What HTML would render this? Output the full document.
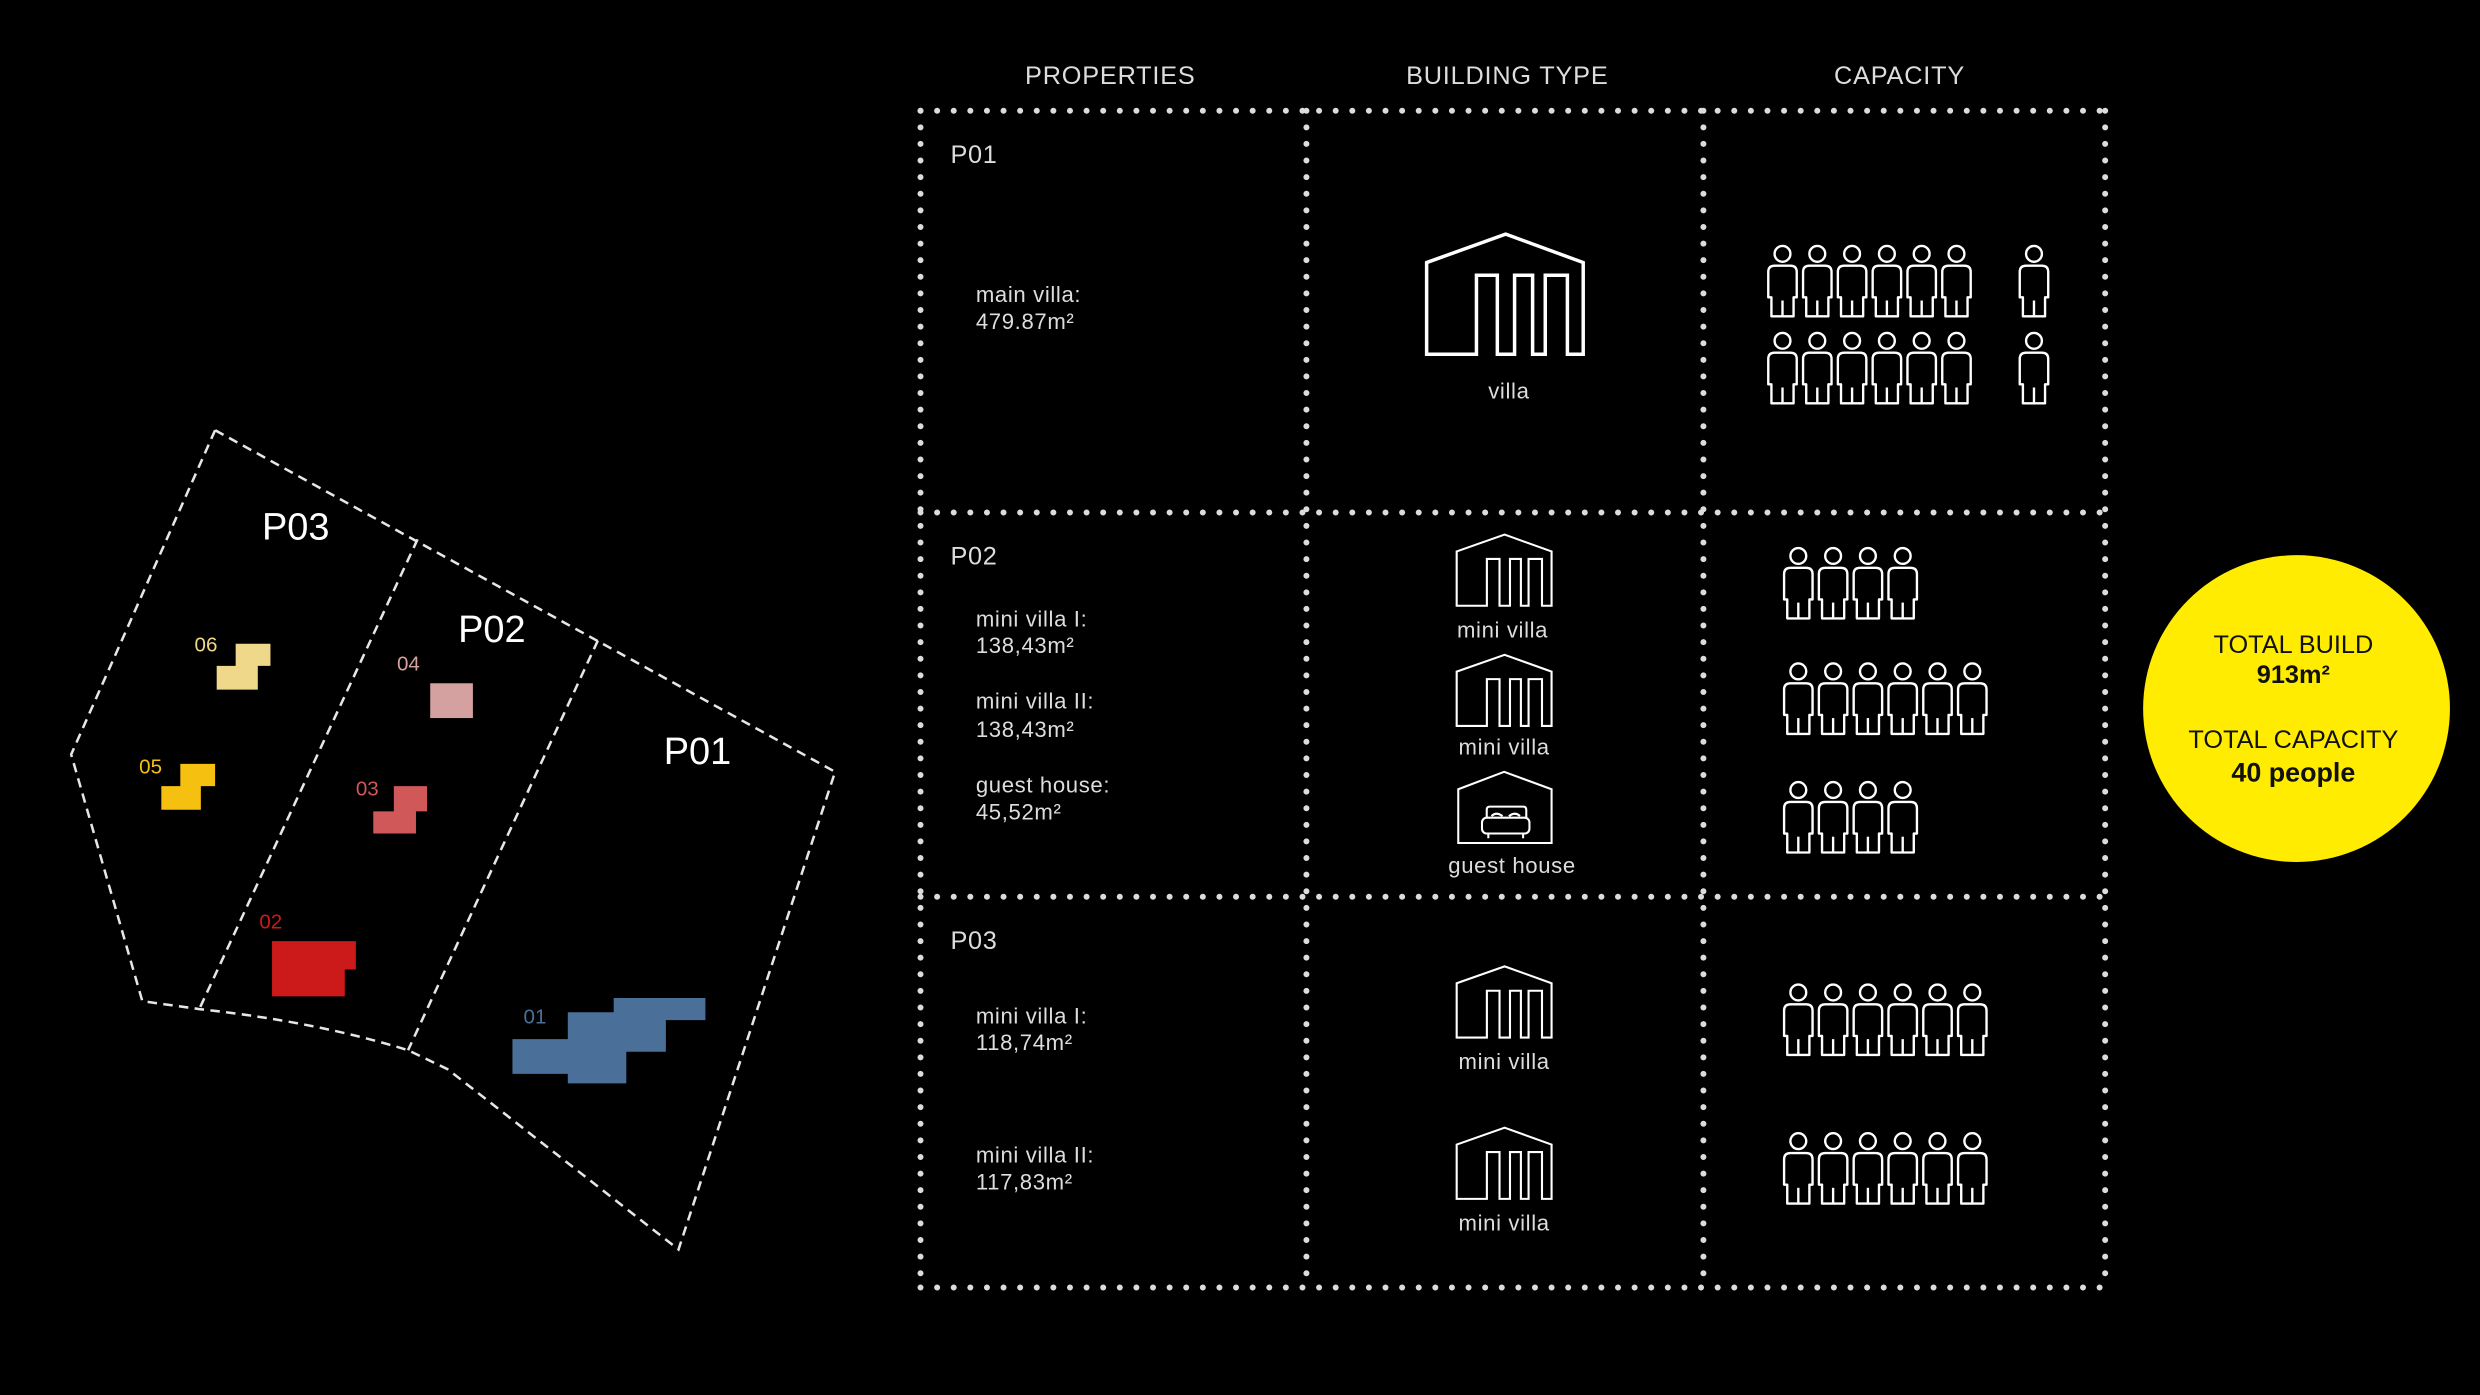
<!DOCTYPE html>
<html><head><meta charset="utf-8"><style>
html,body{margin:0;padding:0;background:#000;}
svg{display:block}
text{font-family:"Liberation Sans",sans-serif;}
</style></head><body>
<svg width="2480" height="1395" viewBox="0 0 1568 882" xmlns="http://www.w3.org/2000/svg">
<defs>
<g id="p" fill="none" stroke="#fff" stroke-width="1.5" stroke-linejoin="round">
<circle cx="10" cy="5.5" r="5"/>
<path d="M1,33 V17 Q1,13 5,13 H15 Q19,13 19,17 V33 H17 V45 H3 V33 Z"/>
<path d="M10,35 V45"/>
</g>
<g id="v" fill="none" stroke="#fff" stroke-width="2.2" stroke-linejoin="miter">
<path d="M0,18 L50,0 L99,18 V76 H89 V26 H75 V76 H67 V26 H55.6 V76 H44.7 V26 H31.5 V76 H0 Z"/>
</g>
</defs>
<rect width="1568" height="882" fill="#000"/>

<!-- map -->
<g fill="none" stroke="#e6e6e6" stroke-width="1.6" stroke-dasharray="6 4">
<path d="M136,272 L45,477 L90,633 L126,638 Q200,646 258,664 L283,676 L429,790 L528,488 Z"/>
<path d="M264,341 L126,638"/>
<path d="M378,405 L258,664"/>
</g>
<g font-size="24" fill="#fff" text-anchor="middle">
<text x="187" y="341">P03</text>
<text x="311" y="406">P02</text>
<text x="441" y="483">P01</text>
</g>
<path d="M149,407H171V421H163V436H137V421H149Z" fill="#f0d88a"/>
<path d="M114,483H136V497H127V512H102V497H114Z" fill="#f5c010"/>
<rect x="272" y="432" width="27" height="22" fill="#d4a0a0"/>
<path d="M249,497H270V513H263V527H236V513H249Z" fill="#d05858"/>
<path d="M172,595H225V613H218V630H172Z" fill="#cc1a1a"/>
<path d="M388,631H446V645H421V665H396V685H359V679H324V657H359V640H388Z" fill="#4a7099"/>
<g font-size="13">
<text x="123" y="412" fill="#f0d88a">06</text>
<text x="88" y="489" fill="#f5c010">05</text>
<text x="251" y="424" fill="#d4a0a0">04</text>
<text x="225" y="503" fill="#d05858">03</text>
<text x="164" y="587" fill="#cc1a1a">02</text>
<text x="331" y="647" fill="#4a7099">01</text>
</g>

<!-- headers -->
<g font-size="16" fill="#ddd" text-anchor="middle" letter-spacing="0.5">
<text x="702" y="53">PROPERTIES</text>
<text x="953" y="53">BUILDING TYPE</text>
<text x="1201" y="53">CAPACITY</text>
</g>

<!-- table dots -->
<g fill="none" stroke="#dcdcdc" stroke-width="3.8" stroke-linecap="round" stroke-dasharray="0 10.5">
<path d="M582,70H1331"/><path d="M582,324H1331"/><path d="M582,567H1331"/><path d="M582,814H1331"/>
<path d="M582,70V814"/><path d="M826,70V814"/><path d="M1077,70V814"/><path d="M1331,70V814"/>
</g>

<!-- properties text -->
<g fill="#ddd" font-size="14" letter-spacing="0.4">
<text x="601" y="103" font-size="16">P01</text>
<text x="617" y="191">main villa:</text><text x="617" y="208">479.87m²</text>
<text x="601" y="357" font-size="16">P02</text>
<text x="617" y="396">mini villa I:</text><text x="617" y="413">138,43m²</text>
<text x="617" y="448">mini villa II:</text><text x="617" y="466">138,43m²</text>
<text x="617" y="501">guest house:</text><text x="617" y="518">45,52m²</text>
<text x="601" y="600" font-size="16">P03</text>
<text x="617" y="647">mini villa I:</text><text x="617" y="664">118,74m²</text>
<text x="617" y="735">mini villa II:</text><text x="617" y="752">117,83m²</text>
</g>

<!-- building icons -->
<use href="#v" transform="translate(902,148)"/>
<use href="#v" transform="translate(921,338) scale(0.606,0.592)"/>
<use href="#v" transform="translate(921,414) scale(0.606,0.592)"/>
<use href="#v" transform="translate(921,611) scale(0.606,0.592)"/>
<use href="#v" transform="translate(921,713) scale(0.606,0.592)"/>
<g fill="none" stroke="#fff" stroke-width="1.3">
<path d="M922,499 L951,488 L981,499 V533 H922 Z"/>
<path d="M940,517 V512 Q940,510 942,510 H963 Q965,510 965,512 V517"/>
<rect x="937" y="517" width="30" height="10" rx="3"/>
<path d="M941,527V530M963,527V530"/>
<path d="M943,516Q946,513 950,516M954,516Q958,513 961,516"/>
</g>
<g fill="#ddd" font-size="14" text-anchor="middle" letter-spacing="0.4">
<text x="954" y="252">villa</text>
<text x="950" y="403">mini villa</text>
<text x="951" y="477">mini villa</text>
<text x="956" y="552">guest house</text>
<text x="951" y="676">mini villa</text>
<text x="951" y="778">mini villa</text>
</g>

<!-- people -->
<g>
<use href="#p" x="1117" y="155"/><use href="#p" x="1139" y="155"/><use href="#p" x="1161" y="155"/><use href="#p" x="1183" y="155"/><use href="#p" x="1205" y="155"/><use href="#p" x="1227" y="155"/><use href="#p" x="1276" y="155"/>
<use href="#p" x="1117" y="210"/><use href="#p" x="1139" y="210"/><use href="#p" x="1161" y="210"/><use href="#p" x="1183" y="210"/><use href="#p" x="1205" y="210"/><use href="#p" x="1227" y="210"/><use href="#p" x="1276" y="210"/>

<use href="#p" x="1127" y="346"/><use href="#p" x="1149" y="346"/><use href="#p" x="1171" y="346"/><use href="#p" x="1193" y="346"/>
<use href="#p" x="1127" y="419"/><use href="#p" x="1149" y="419"/><use href="#p" x="1171" y="419"/><use href="#p" x="1193" y="419"/><use href="#p" x="1215" y="419"/><use href="#p" x="1237" y="419"/>
<use href="#p" x="1127" y="494"/><use href="#p" x="1149" y="494"/><use href="#p" x="1171" y="494"/><use href="#p" x="1193" y="494"/>

<use href="#p" x="1127" y="622"/><use href="#p" x="1149" y="622"/><use href="#p" x="1171" y="622"/><use href="#p" x="1193" y="622"/><use href="#p" x="1215" y="622"/><use href="#p" x="1237" y="622"/>
<use href="#p" x="1127" y="716"/><use href="#p" x="1149" y="716"/><use href="#p" x="1171" y="716"/><use href="#p" x="1193" y="716"/><use href="#p" x="1215" y="716"/><use href="#p" x="1237" y="716"/>
</g>

<!-- circle -->
<circle cx="1452" cy="448" r="97" fill="#ffec00"/>
<g text-anchor="middle" fill="#111" font-size="16">
<text x="1450" y="413">TOTAL BUILD</text>
<text x="1450" y="432" font-weight="bold">913m²</text>
<text x="1450" y="473">TOTAL CAPACITY</text>
<text x="1450" y="494" font-weight="bold" font-size="17">40 people</text>
</g>
</svg>
</body></html>
